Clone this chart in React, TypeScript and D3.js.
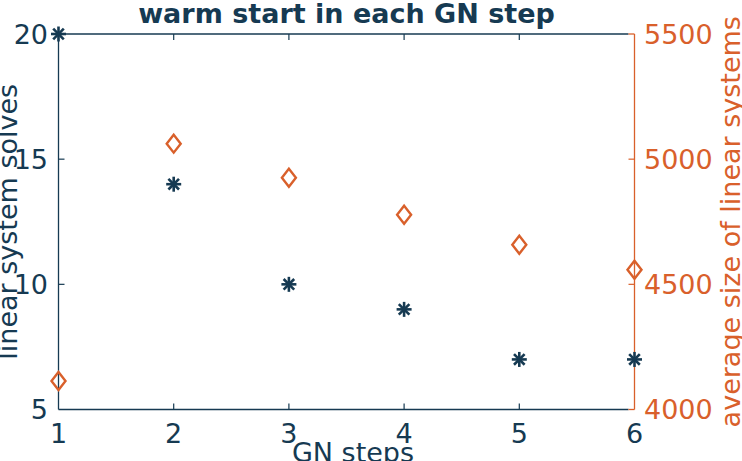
import React from "react";
import * as d3 from "d3";

const steps = [1, 2, 3, 4, 5, 6];
const solves = [20, 14, 10, 9, 7, 7];
const avgSize = [4114, 5062, 4926, 4778, 4658, 4558];
const xTicks = [1, 2, 3, 4, 5, 6];
const leftTicks = [5, 10, 15, 20];
const rightTicks = [4000, 4500, 5000, 5500];

const BLUE = "#163a52";
const ORANGE = "#d9602b";
const FONT = "DejaVu Sans, sans-serif";

export default function App() {
  const W = 742, H = 461;
  const L = 58.5, R = 634.5, T = 34, B = 409.5;
  const x = d3.scaleLinear().domain([1, 6]).range([L, R]);
  const yL = d3.scaleLinear().domain([5, 20]).range([B, T]);
  const yR = d3.scaleLinear().domain([4000, 5500]).range([B, T]);
  const tk = 6;
  const s = 7.5;
  const d = s * 0.7071;
  const diamond = (cx: number, cy: number) =>
    `M${cx},${cy - 9} L${cx + 7},${cy} L${cx},${cy + 9} L${cx - 7},${cy} Z`;

  return (
    <svg width={W} height={H} style={{ position: "absolute", left: 0, top: 0 }} fontFamily={FONT}>
      <rect width={W} height={H} fill="white" />
      {/* frame */}
      <line x1={L} x2={R - 6} y1={T} y2={T} stroke={BLUE} strokeWidth={1.3} />
      <line x1={L} x2={R - 6} y1={B} y2={B} stroke={BLUE} strokeWidth={1.3} />
      <line x1={R - 6} x2={R} y1={T} y2={T} stroke={ORANGE} strokeWidth={1.3} />
      <line x1={R - 6} x2={R} y1={B} y2={B} stroke={ORANGE} strokeWidth={1.3} />
      <line x1={L} x2={L} y1={T} y2={B} stroke={BLUE} strokeWidth={1.3} />
      <line x1={R} x2={R} y1={T} y2={B} stroke={ORANGE} strokeWidth={1.3} />
      {/* x ticks */}
      {xTicks.map((t) => (
        <g key={"xt" + t}>
          {t > 1 && t < 6 && (
            <>
              <line x1={x(t)} x2={x(t)} y1={B} y2={B - tk} stroke={BLUE} strokeWidth={1.2} />
              <line x1={x(t)} x2={x(t)} y1={T} y2={T + tk} stroke={BLUE} strokeWidth={1.2} />
            </>
          )}
          <text x={x(t)} y={443} textAnchor="middle" fontSize={27} fill={BLUE}>
            {t}
          </text>
        </g>
      ))}
      {/* left ticks */}
      {leftTicks.map((t) => (
        <g key={"lt" + t}>
          {t > 5 && t < 20 && (
            <line x1={L} x2={L + tk} y1={yL(t)} y2={yL(t)} stroke={BLUE} strokeWidth={1.2} />
          )}
          <text x={48} y={yL(t)} dy="0.36em" textAnchor="end" fontSize={27} fill={BLUE}>
            {t}
          </text>
        </g>
      ))}
      {/* right ticks */}
      {rightTicks.map((t) => (
        <g key={"rt" + t}>
          {t > 4000 && t < 5500 && (
            <line x1={R} x2={R - tk} y1={yR(t)} y2={yR(t)} stroke={ORANGE} strokeWidth={1.2} />
          )}
          <text x={644} y={yR(t)} dy="0.36em" textAnchor="start" fontSize={27} fill={ORANGE}>
            {t}
          </text>
        </g>
      ))}
      {/* title */}
      <text x={(L + R) / 2} y={23} textAnchor="middle" fontSize={27} fontWeight="bold" fill={BLUE}>
        warm start in each GN step
      </text>
      {/* axis labels */}
      <text x={353} y={462} textAnchor="middle" fontSize={27} fill={BLUE}>
        GN steps
      </text>
      <text transform={`translate(17,${(T + B) / 2}) rotate(-90)`} textAnchor="middle" fontSize={27} fill={BLUE}>
        linear system solves
      </text>
      <text transform={`translate(740,${(T + B) / 2}) rotate(-90)`} textAnchor="middle" fontSize={27} fill={ORANGE}>
        average size of linear systems
      </text>
      {/* diamonds */}
      {steps.map((st, i) => (
        <path key={"d" + st} d={diamond(x(st), yR(avgSize[i]))} fill="none" stroke={ORANGE} strokeWidth={2.4} />
      ))}
      {/* stars */}
      {steps.map((st, i) => {
        const cx = x(st), cy = yL(solves[i]);
        return (
          <g key={"s" + st} stroke={BLUE} strokeWidth={2.6}>
            <line x1={cx - s} x2={cx + s} y1={cy} y2={cy} />
            <line x1={cx} x2={cx} y1={cy - s} y2={cy + s} />
            <line x1={cx - d} x2={cx + d} y1={cy - d} y2={cy + d} />
            <line x1={cx - d} x2={cx + d} y1={cy + d} y2={cy - d} />
          </g>
        );
      })}
    </svg>
  );
}
